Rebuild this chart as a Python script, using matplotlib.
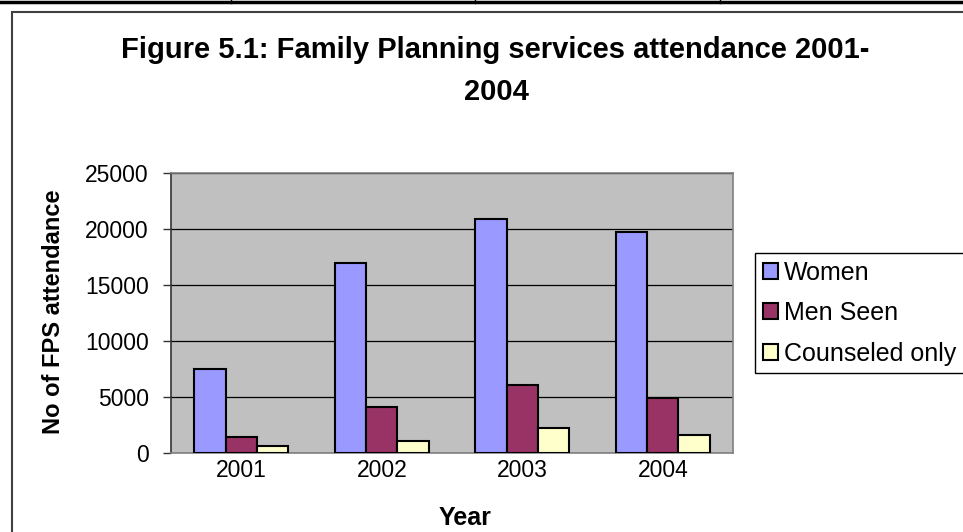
import matplotlib.pyplot as plt
import numpy as np

years = ['2001', '2002', '2003', '2004']
women = [7500, 17000, 20900, 19700]
men_seen = [1450, 4100, 6050, 4900]
counseled_only = [600, 1100, 2200, 1600]

series = ['Women', 'Men Seen', 'Counseled only']
colors = ['#9999FF', '#993366', '#FFFFCC']

plt.rcParams['font.family'] = ['Liberation Sans', 'DejaVu Sans']

fig = plt.figure(figsize=(9.63, 5.32), dpi=100)
W, H = 963, 532

def fx(px):
    return px / W

def fy(py):
    return 1 - py / H

# document table line along the top edge
fig.add_artist(plt.Line2D([0, 1], [fy(1.5), fy(1.5)], color='black', lw=2.5))
for xp in [231, 475, 720]:
    fig.add_artist(plt.Line2D([fx(xp), fx(xp)], [fy(0), fy(3)], color='black', lw=1))

# chart frame
fig.add_artist(plt.Rectangle((fx(12), fy(560)), fx(1000), fy(12) - fy(560),
                             fill=False, edgecolor='#404040', lw=1.5))

ax = fig.add_axes([fx(171), fy(453), fx(733) - fx(171), fy(173) - fy(453)])
ax.set_facecolor('#C0C0C0')

x = np.arange(len(years))
w = 0.223
for i, (vals, name, c) in enumerate(zip([women, men_seen, counseled_only], series, colors)):
    ax.bar(x + (i - 1) * w, vals, w, color=c, edgecolor='black', linewidth=1.5,
           label=name, zorder=3)

ax.set_xlim(-0.5, 3.5)
ax.set_ylim(0, 25000)
ax.set_yticks(range(0, 25001, 5000))
ax.yaxis.grid(True, color='black', lw=0.9, zorder=1)
ax.set_axisbelow(True)
ax.set_xticks(x)
ax.set_xticklabels(years)
ax.tick_params(axis='x', length=0, labelsize=16.5, pad=4)
ax.tick_params(axis='y', length=6, width=1, color='#333333', labelsize=16.5, pad=10)
for s in ['top', 'right', 'bottom']:
    ax.spines[s].set_color('#808080')
    ax.spines[s].set_linewidth(1.2)
ax.spines['left'].set_color('#333333')
ax.spines['left'].set_linewidth(1.2)

fig.text(fx(495), fy(58), 'Figure 5.1: Family Planning services attendance 2001-',
         ha='center', va='baseline', fontsize=21, fontweight='bold')
fig.text(fx(496), fy(100), '2004', ha='center', va='baseline', fontsize=21, fontweight='bold')
fig.text(fx(54), fy(312), 'No of FPS attendance', rotation=90, ha='center', va='center',
         fontsize=17, fontweight='bold')
fig.text(fx(465), fy(525), 'Year', ha='center', va='baseline', fontsize=18, fontweight='bold')

leg = fig.legend(loc='upper left', bbox_to_anchor=(fx(755), fy(253)), fontsize=18,
                 frameon=True, fancybox=False, edgecolor='black', framealpha=1,
                 handlelength=0.6, handleheight=0.6, handletextpad=0.25,
                 labelspacing=0.66, borderpad=0.3, borderaxespad=0)
leg.get_frame().set_linewidth(1)

fig.savefig('out.png', dpi=100)
